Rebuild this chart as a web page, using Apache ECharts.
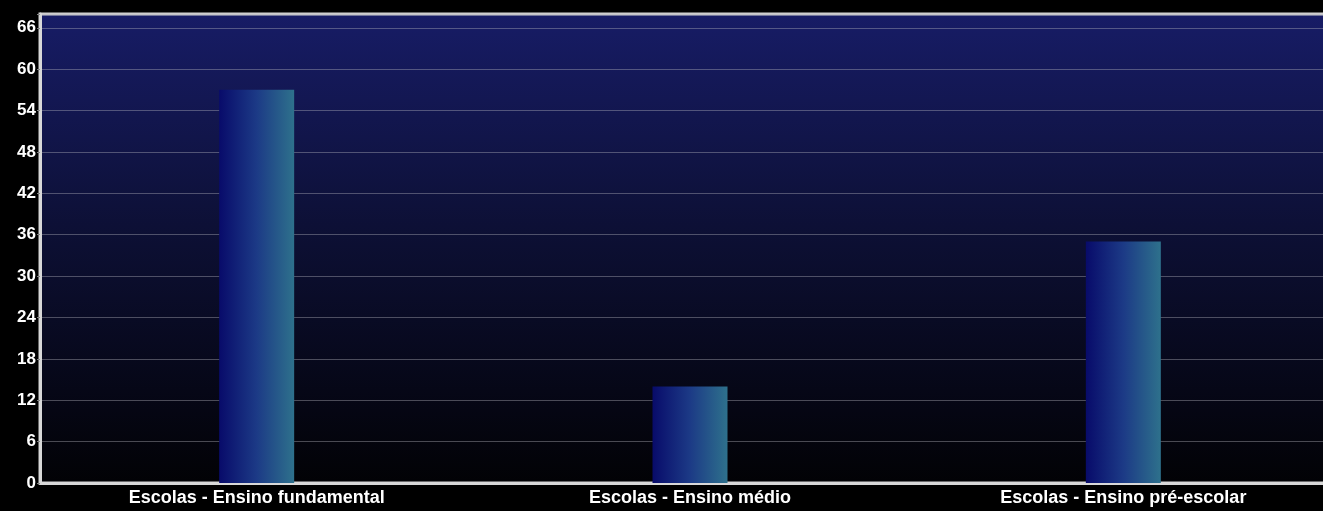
<!DOCTYPE html>
<html><head><meta charset="utf-8">
<script src="https://cdn.jsdelivr.net/npm/echarts@6/dist/echarts.min.js"></script>
<style>html,body{margin:0;padding:0;background:#000;}#c{width:1323px;height:511px;}</style>
</head><body><div id="c"></div>
<script>
const categories = ['Escolas - Ensino fundamental', 'Escolas - Ensino médio', 'Escolas - Ensino pré-escolar'];
const values = [57, 14, 35];
const yTicks = [0, 6, 12, 18, 24, 30, 36, 42, 48, 54, 60, 66];

const chart = echarts.init(document.getElementById('c'), null, {renderer: 'canvas'});
chart.setOption({
  backgroundColor: '#000',
  animation: false,
  grid: {
    left: 40, top: 14, right: -17, bottom: 28,
    outerBoundsMode: 'none',
    containLabel: false,
    show: true,
    borderWidth: 3, borderColor: '#cfcfcf',
    backgroundColor: new echarts.graphic.LinearGradient(0, 0, 0, 1, [
      {offset: 0, color: '#171c66'},
      {offset: 0.45, color: '#0d1036'},
      {offset: 1, color: '#020205'}
    ])
  },
  xAxis: {
    type: 'category', data: categories,
    axisLine: {show: true, lineStyle: {color: '#d8d8d8', width: 3}},
    axisTick: {show: false},
    axisLabel: {color: '#ffffff', fontFamily: 'Liberation Sans', fontWeight: 'bold', fontSize: 18, margin: 6}
  },
  yAxis: {
    type: 'value', min: 0, max: 68, interval: 6,
    axisLine: {show: true, lineStyle: {color: '#d8d8d8', width: 3}},
    axisTick: {show: true, length: 3, lineStyle: {color: '#888'}},
    axisLabel: {
      color: '#ffffff', fontFamily: 'Liberation Sans', fontWeight: 'bold', fontSize: 17, margin: 4,
      formatter: v => (yTicks.indexOf(v) >= 0 ? String(v) : '')
    },
    splitLine: {show: true, lineStyle: {color: 'rgba(180,180,190,0.4)', width: 1}}
  },
  series: [{
    type: 'bar', data: values, barWidth: 75,
    itemStyle: {
      color: new echarts.graphic.LinearGradient(0, 0, 1, 0, [
        {offset: 0, color: '#080b6a'},
        {offset: 0.5, color: '#1c3a86'},
        {offset: 1, color: '#2e718c'}
      ])
    }
  }]
});
</script></body></html>
